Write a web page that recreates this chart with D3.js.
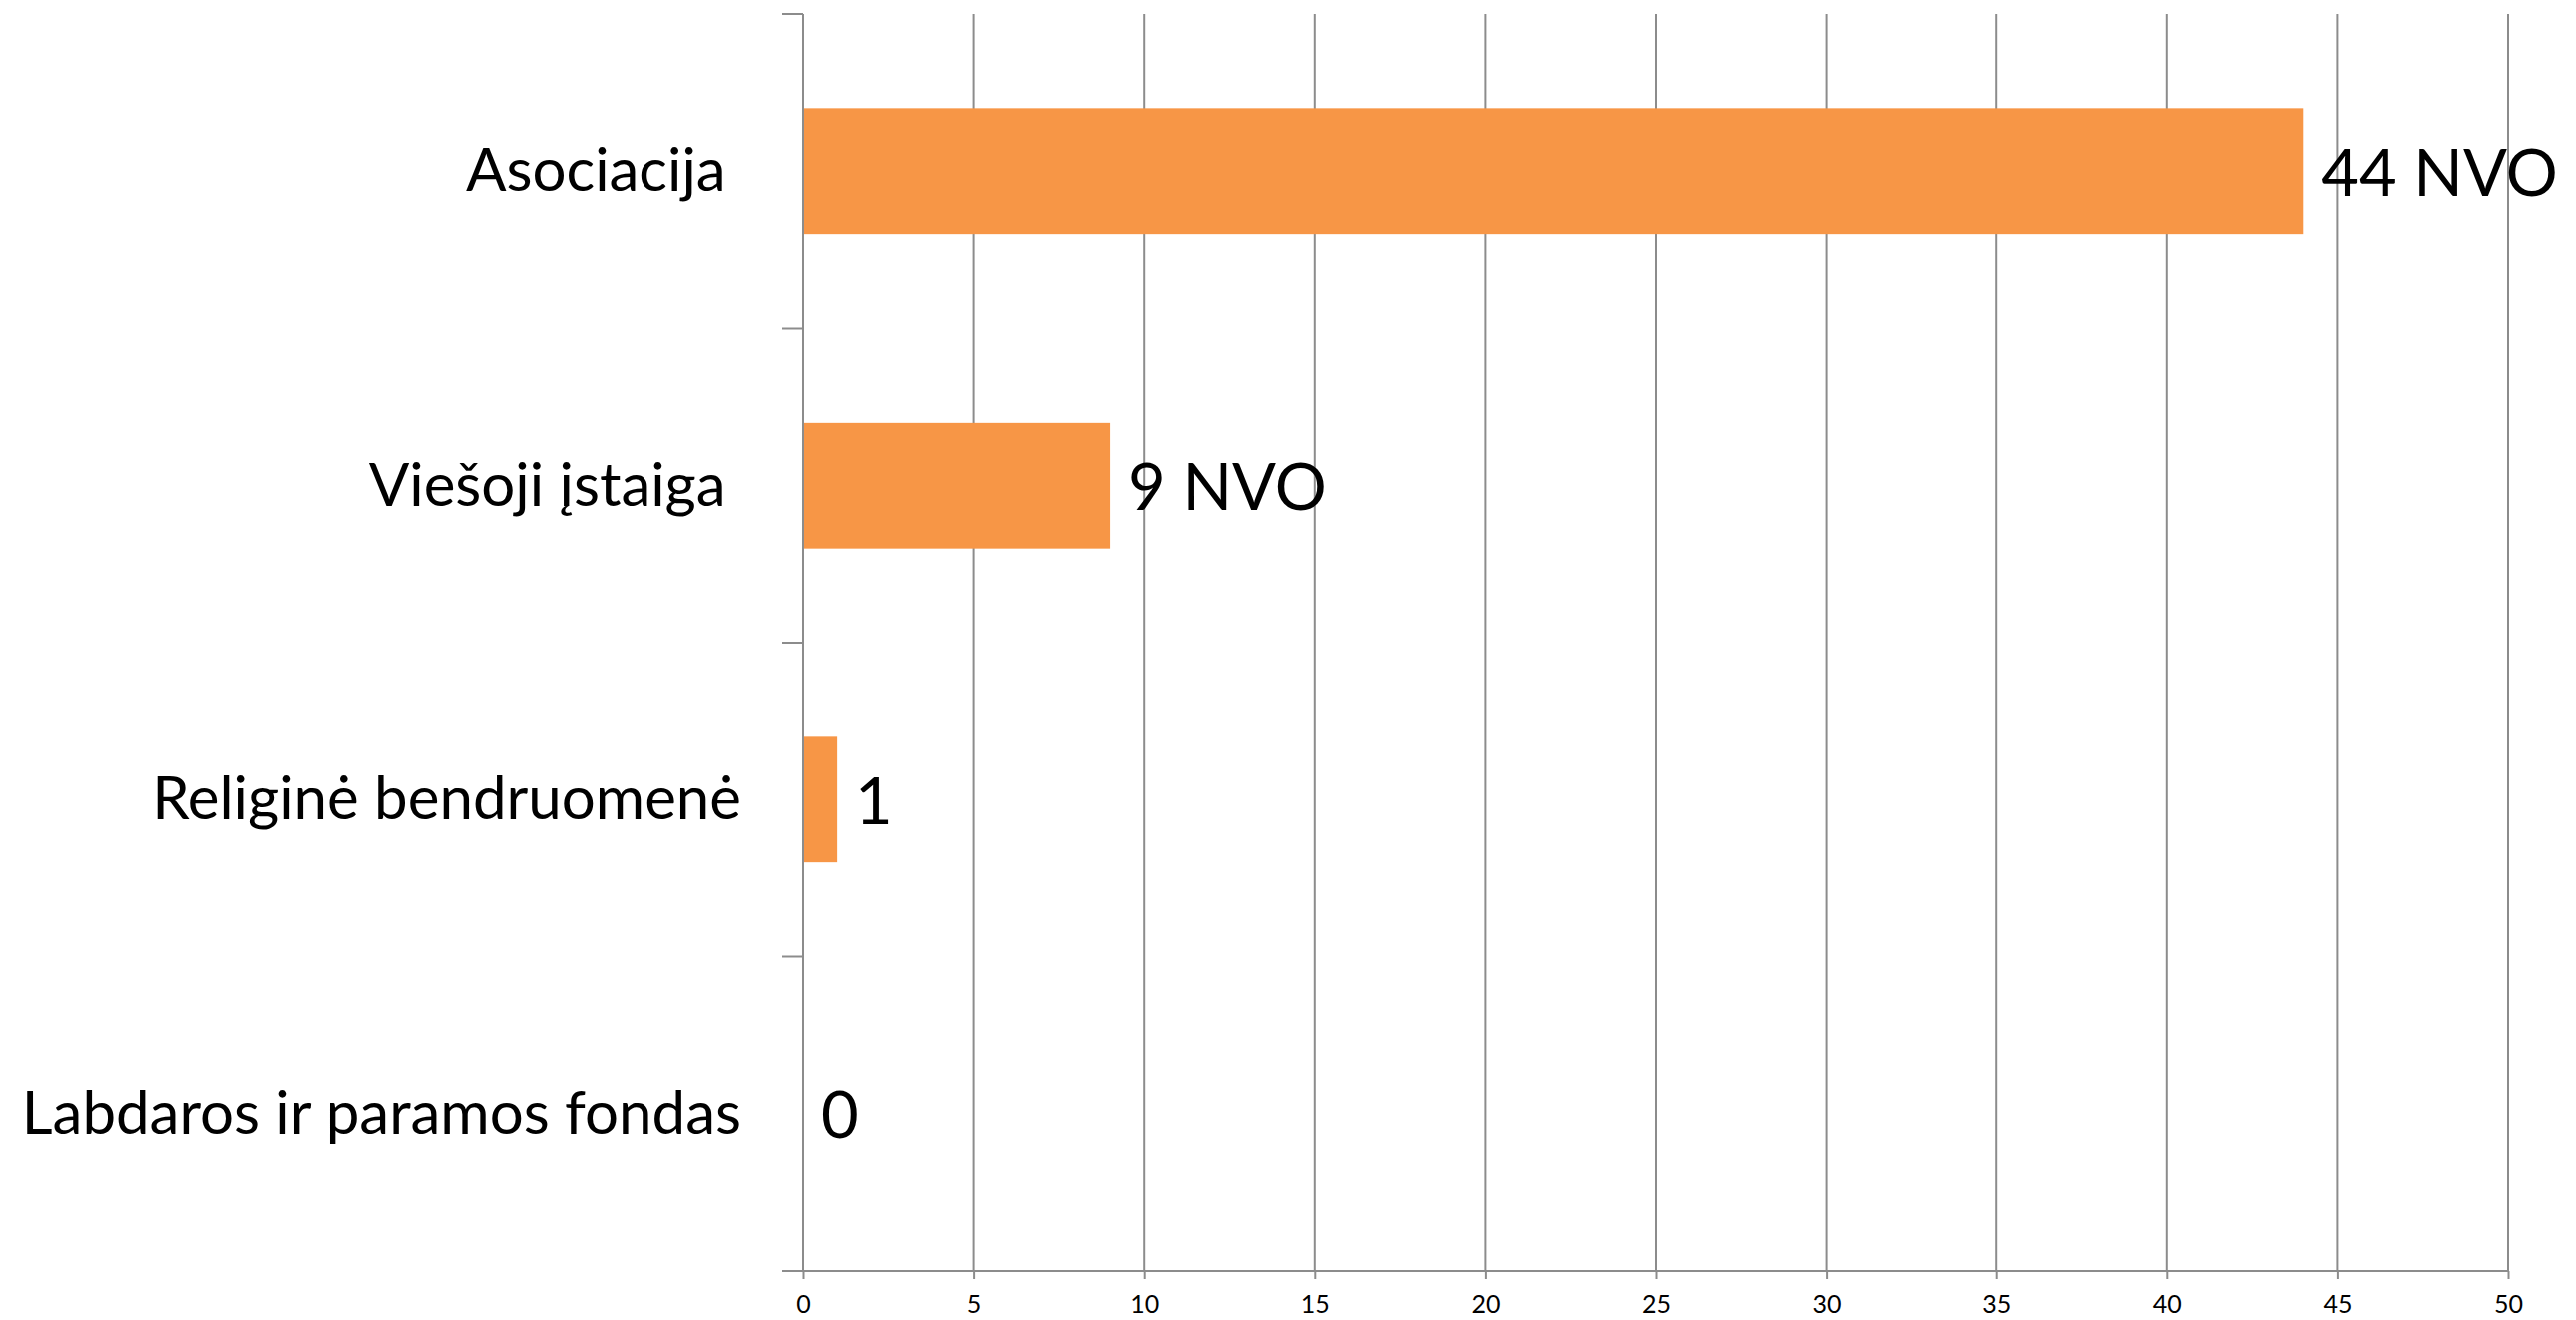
<!DOCTYPE html>
<html>
<head>
<meta charset="utf-8">
<script src="https://cdn.jsdelivr.net/npm/d3@7"></script>
<style>
  body { margin: 0; background: #fff; }
  svg { display: block; }
</style>
</head>
<body>
<svg id="chart" width="2578" height="1321"></svg>
<script>
// category names (Excel kept a trailing space on two of them)
var categories = ['Asociacija ', 'Viešoji įstaiga ', 'Religinė bendruomenė', 'Labdaros ir paramos fondas'];
var values = [44, 9, 1, 0];
var valueLabels = ['44 NVO', '9 NVO', '1', '0'];
var xTicks = [0, 5, 10, 15, 20, 25, 30, 35, 40, 45, 50];

var svg = d3.select('#chart');
// note: "top" is taken by window.top, so plot edges get their own names
var plotLeft = 804, plotRight = 2510, plotTop = 14, plotBottom = 1272;
var gridColor = '#8c8c8c';

var xScale = d3.scaleLinear()
  .domain([0, 50])
  .range([plotLeft, plotRight]);

// full band per category (used for the axis ticks)
var yBand = d3.scaleBand()
  .domain(categories)
  .range([plotTop, plotBottom]);

// bars take 40% of each band
var yBar = d3.scaleBand()
  .domain(categories)
  .range([plotTop, plotBottom])
  .paddingInner(0.6)
  .paddingOuter(0.3);

// vertical grid lines
svg.append('g')
  .selectAll('line')
  .data(xTicks.slice(1))
  .enter()
  .append('line')
  .attr('x1', function (d) { return xScale(d); })
  .attr('x2', function (d) { return xScale(d); })
  .attr('y1', plotTop)
  .attr('y2', plotBottom)
  .attr('stroke', gridColor)
  .attr('stroke-width', 2);

// bars
svg.append('g')
  .selectAll('rect')
  .data(values)
  .enter()
  .append('rect')
  .attr('x', xScale(0))
  .attr('y', function (d, i) { return yBar(categories[i]); })
  .attr('width', function (d) { return xScale(d) - xScale(0); })
  .attr('height', yBar.bandwidth())
  .attr('fill', '#F79646');

// x axis at the bottom
var xAxis = d3.axisBottom(xScale)
  .tickValues(xTicks)
  .tickSize(8)
  .tickSizeOuter(0)
  .tickPadding(16);

var gx = svg.append('g')
  .attr('transform', 'translate(0,' + plotBottom + ')')
  .call(xAxis);
gx.select('.domain').remove();
gx.selectAll('.tick line').attr('stroke', gridColor).attr('stroke-width', 2);
gx.selectAll('.tick text')
  .attr('font-family', 'Lato, sans-serif')
  .attr('font-size', '25px')
  .attr('fill', '#000');
gx.append('line')
  .attr('x1', plotLeft - 21)
  .attr('x2', plotRight)
  .attr('y1', 0)
  .attr('y2', 0)
  .attr('stroke', gridColor)
  .attr('stroke-width', 2);

// y axis line and ticks between categories
var gy = svg.append('g');
gy.append('line')
  .attr('x1', plotLeft)
  .attr('x2', plotLeft)
  .attr('y1', plotTop)
  .attr('y2', plotBottom)
  .attr('stroke', gridColor)
  .attr('stroke-width', 2);
gy.selectAll('line.tick')
  .data(categories)
  .enter()
  .append('line')
  .attr('class', 'tick')
  .attr('x1', plotLeft - 21)
  .attr('x2', plotLeft)
  .attr('y1', function (d) { return yBand(d); })
  .attr('y2', function (d) { return yBand(d); })
  .attr('stroke', gridColor)
  .attr('stroke-width', 2);

// category labels
gy.selectAll('text')
  .data(categories)
  .enter()
  .append('text')
  .attr('xml:space', 'preserve')
  .style('white-space', 'pre')
  .attr('x', plotLeft - 62)
  .attr('y', function (d) { return yBand(d) + yBand.bandwidth() / 2; })
  .attr('dy', '0.33em')
  .attr('text-anchor', 'end')
  .attr('font-family', 'Lato, sans-serif')
  .attr('font-size', '60px')
  .attr('fill', '#000')
  .text(function (d) { return d; });

// value labels
svg.append('g')
  .selectAll('text')
  .data(values)
  .enter()
  .append('text')
  .attr('x', function (d) { return xScale(d) + 18; })
  .attr('y', function (d, i) { return yBand(categories[i]) + yBand.bandwidth() / 2; })
  .attr('dy', '0.38em')
  .attr('font-family', 'Lato, sans-serif')
  .attr('font-size', '65px')
  .attr('fill', '#000')
  .text(function (d, i) { return valueLabels[i]; });
</script>
</body>
</html>
